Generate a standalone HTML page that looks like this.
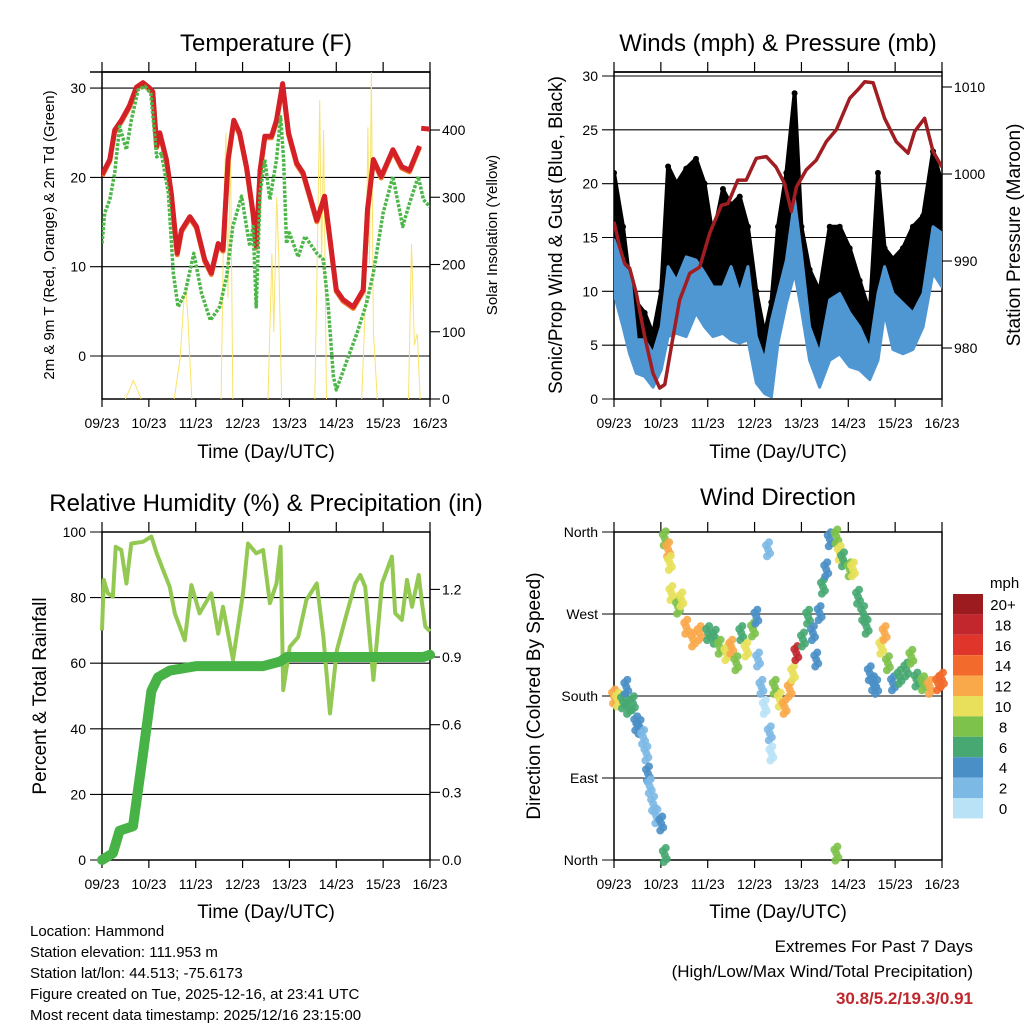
<!DOCTYPE html>
<html><head><meta charset="utf-8"><style>
body{margin:0;background:#fff;}
svg{display:block;font-family:"Liberation Sans",sans-serif;}
</style></head><body>
<svg id="c" width="1024" height="1024" viewBox="0 0 1024 1024" xmlns="http://www.w3.org/2000/svg">
<g fill="#000">
<text x="266" y="51" font-size="24" text-anchor="middle">Temperature (F)</text>
<text x="778" y="51" font-size="24" text-anchor="middle">Winds (mph) &amp; Pressure (mb)</text>
<text x="266" y="511" font-size="24" text-anchor="middle">Relative Humidity (%) &amp; Precipitation (in)</text>
<text x="778" y="505" font-size="24" text-anchor="middle">Wind Direction</text>
<text x="266" y="458" font-size="19" text-anchor="middle">Time (Day/UTC)</text>
<text x="778" y="458" font-size="19" text-anchor="middle">Time (Day/UTC)</text>
<text x="266" y="918" font-size="19" text-anchor="middle">Time (Day/UTC)</text>
<text x="778" y="918" font-size="19" text-anchor="middle">Time (Day/UTC)</text>
<text transform="translate(54,235) rotate(-90)" font-size="15" text-anchor="middle">2m &amp; 9m T (Red, Orange) &amp; 2m Td (Green)</text>
<text transform="translate(497,235) rotate(-90)" font-size="15" text-anchor="middle">Solar Insolation (Yellow)</text>
<text transform="translate(562,235) rotate(-90)" font-size="19" text-anchor="middle">Sonic/Prop Wind &amp; Gust (Blue, Black)</text>
<text transform="translate(1020,235) rotate(-90)" font-size="19" text-anchor="middle">Station Pressure (Maroon)</text>
<text transform="translate(46,696) rotate(-90)" font-size="19" text-anchor="middle">Percent &amp; Total Rainfall</text>
<text transform="translate(540,696) rotate(-90)" font-size="19" text-anchor="middle">Direction (Colored By Speed)</text>
<text x="990" y="588" font-size="15" text-anchor="start">mph</text>
<g font-size="15">
<text x="30" y="936">Location: Hammond</text>
<text x="30" y="957">Station elevation: 111.953 m</text>
<text x="30" y="978">Station lat/lon: 44.513; -75.6173</text>
<text x="30" y="999">Figure created on Tue, 2025-12-16, at 23:41 UTC</text>
<text x="30" y="1020">Most recent data timestamp: 2025/12/16 23:15:00</text>
</g>
<text x="973" y="952" font-size="17" text-anchor="end">Extremes For Past 7 Days</text>
<text x="973" y="977" font-size="17" text-anchor="end">(High/Low/Max Wind/Total Precipitation)</text>
<text x="973" y="1004" font-size="17" font-weight="bold" fill="#c0272d" text-anchor="end">30.8/5.2/19.3/0.91</text>
</g>
</svg>
<script>
// ---- data ----
const days=['09/23','10/23','11/23','12/23','13/23','14/23','15/23','16/23'];
const tempTicks=[0,10,20,30];
const solarTicks=[0,100,200,300,400];
const windTicks=[0,5,10,15,20,25,30];
const presTicks=[980,990,1000,1010];
const rhTicks=[0,20,40,60,80,100];
const rainTicks=[0.0,0.3,0.6,0.9,1.2];
const dirTicks=[0,90,180,270,360];
const dirLabels=['North','East','South','West','North'];
const tHours=[0,4,6.5,10,14,17.6,21,24.4,26,28,29.6,33,35.5,38.5,40.7,45,48.4,52.6,56,59.5,62,64.6,67.5,70.5,74,77.4,79,81,83.4,86.8,89.4,92.5,95.5,99.7,103,106.5,110,114,116.8,120,123.5,128.7,133.8,136,139,143,149,153.5,157.5,162.6];
const tempRed=[20.3,22,25.3,26.4,28,30.1,30.6,30,29.6,23.5,25,22,18.2,11.5,14.1,15.6,14.5,10.8,9.3,12.6,11.9,22,26.4,25,21.2,16,12.3,20.8,24.6,24.6,26.4,30.5,25,21.6,20.5,17.9,15.2,17.9,13.1,7.4,6.3,5.5,7.4,16.4,22,20.1,23.1,21.2,20.8,23.5];
const tLateHours=[163.5,168];
const tempRedLate=[25.5,25.4];
const tdHours=[0,1.4,4,6.5,9,12.5,15,18.5,22,25,28,30.4,34,36.5,39,42.5,47,51,55.5,60.3,63.8,67,71.5,74,75.7,77.4,79,81,83.4,86,89.4,91.5,93,94.5,96,100.5,104,110,113.4,116,118.5,120,125,130.5,135.5,139,144,149,154,157.5,162,164.6,168];
const dewpoint=[12.6,16,17.5,20.5,25.7,23.1,26.4,29.8,30.2,29.4,22.3,22.7,18.2,9.3,5.5,7,11.5,7,4,5.5,8.9,14.5,17.9,14.5,12.3,14.5,5.5,18.2,22,17.5,22,26.8,22,12.6,13.8,11.1,13.4,11.5,10.8,5.2,-2.3,-3.8,-0.8,2.5,5.9,9.3,16,20.1,14.5,17.1,20.1,17.5,16.7];
const solarHours=[0,12,15,16,18,20,37,40,42,43,44,46,61,62.5,63.5,64.5,65.8,67,85,87,88,89.5,90.5,92,109,110.5,111.5,112.5,113.5,115,133,135,136.2,137,138,139,141,157,158.5,160,161.5,163,168];
const solarVals=[0,0,20,28,15,0,0,60,150,162,120,0,0,300,395,150,380,0,0,216,100,300,216,0,0,250,444,200,400,0,0,150,404,200,486,100,0,0,231,80,97,0,0];
const wHours=[0,4.6,8,11.4,15.7,20,24.2,27.7,32,37,42,46.4,50.7,55.8,60,64.4,68.6,72.9,77.2,80.6,84,88.3,92.5,96,100.2,105.3,110.5,115.6,120.7,125.8,131,135.2,138.6,142.9,148,153.1,158.3,163.4,168];
const windHi=[14.8,12.3,11.7,5.5,5.5,4.2,6.7,12.3,11,13.2,12.9,11.7,10.4,10.4,12.3,9.8,12.3,5.8,3.6,7.3,9.8,12.9,18.5,13.5,6.7,4.2,9.2,9.8,8,6.7,4.6,9.8,12.3,9.8,8.9,8,9.8,16,15.4];
const windLo=[9.8,6.7,4.2,2.4,2.1,1.1,2.7,5.8,6.1,5.8,8,6.7,5.8,6.1,5.5,5.2,5.5,1.5,0.5,0.2,5.2,8.9,11.7,8.3,3.6,1.1,3.6,4.2,3,2.7,1.8,3.6,8,4.6,4.2,4.6,6.7,11.7,10.4];
const gust=[21,16,11,9,8,6,10,21.6,20,21.4,22.3,20,15,19.5,18,18.8,16,10,6,9,16,21,28.4,16,12,10,16,16,14,11,8,21,14,13,14,16,17,23,20];
const pHours=[0,2.9,5.5,8,11.4,15.7,20,23.4,26,29.4,33.6,38.8,43.9,49,55,58.4,63.4,67.7,72.9,78,83,87.4,90.8,93.4,98.5,103.6,108.7,113.9,120.7,125,128.4,132.7,138.6,144.6,150.6,154,159.1,163.4,168];
const pressure=[994.5,991.6,989.7,989.2,986.3,981.3,977.1,975.4,975.8,980.2,985.5,988.6,989.3,993.2,996.4,996.6,999.3,999.3,1001.8,1002,1000.8,998.9,995.7,998.5,1000.5,1001.6,1003.7,1005.1,1008.7,1009.7,1010.6,1010.5,1006.4,1003.7,1002.4,1004.9,1006.4,1002.6,1000.8];
const rhHours=[0,0.9,3,5.6,7,9.9,12.5,15,21,25.3,28,31.3,34.7,37.3,42.4,45.8,50,56,59.5,62,67.1,72.2,74.8,79,82.5,86,89.4,91.5,92.8,96.2,100.5,104.7,110,113.4,116.8,120.3,125.4,129.7,132.3,134.8,139,143.4,148.5,150.2,153.6,156.2,158.8,162.2,163.9,165.6,168];
const rh=[70,85.4,81.3,80.3,95.5,94.5,84.3,96.5,97,98.6,93.5,88.4,83.3,75.2,67,83.8,75.2,81.3,69,77.2,61,81.3,96.5,93.5,94.5,78.3,84.3,95.5,51.8,65,68,79.3,84.3,68,44.7,64,75.2,84.3,86.9,83.3,54.9,84.3,92.5,75.2,73.2,85.4,77.2,86.9,78.3,71.2,69.7];
const rainHours=[0,5.6,9,15.9,21,25.3,28.7,34.7,48.4,82.5,91.2,94.6,164.6,168];
const rain=[0,0.03,0.13,0.15,0.47,0.75,0.81,0.84,0.86,0.86,0.88,0.90,0.90,0.91];
const dHours=[0,2,4.6,6.3,7.2,9.7,11.4,13.1,14.9,16.6,17.4,18.3,20,21.7,24.2,26,26,27.7,28.6,29.4,32.8,34.5,37,40.5,43.9,48.2,51.6,54.1,57.5,60.1,62.7,65.2,67.8,71.2,72.9,73.8,75.5,77.2,78.9,79.8,80.6,82.3,84.9,87.4,90,91.7,93.4,96.8,99.4,101.9,103.6,105.3,107,108.7,110.5,113.9,113.9,115.6,117.3,120.7,122.4,125,127.6,129.4,131,132.7,134.3,136.9,138.6,140.3,142.9,146.3,149.7,152.3,154.9,158.3,161.8,166,168];
const dirs=[179.5,176,174,190,168,172,150,146,135,117,95,81,62,48,40,5.5,353,341,326,293,278,286,256,242,249,249,245,234,227,234,216,249,231,253,267,220,190,168,341,139,117,190,176,168,187,205,227,242,267,249,220,271,300,319,352,355,7,337,330,319,319,289,271,256,205,194,190,234,249,216,194,201,209,223,198,194,190,194,198];
const dSpeeds=[13,10,7,4,6,7,4,4,3,3,4,2,2,2,4,6,8,12,10,10,8,10,12,13,12,6,6,8,11,12,8,6,10,8,4,2,3,1,3,2,1,8,10,12,12,10,18,7,6,4,4,4,6,4,5,8,9,10,6,9,10,6,6,6,4,4,4,11,12,8,4,6,7,8,7,9,12,15,14];
const legendLabels=['20+','18','16','14','12','10','8','6','4','2','0'];
const legendColors=['#9b1b1e','#c1272d','#e0352b','#f26a2c','#f9a94a','#e8e05a','#7dc24b','#47a872','#4a8fc6','#7db9e5','#b9e2f7'];

// ---- helpers ----
const NS='http://www.w3.org/2000/svg';
const svg=document.getElementById('c');
function mk(tag,attrs,parent){const e=document.createElementNS(NS,tag);for(const k in attrs)e.setAttribute(k,attrs[k]);(parent||svg).appendChild(e);return e;}
function pathFrom(xs,ys,fx,fy){let d='';for(let i=0;i<xs.length;i++){d+=(i?'L':'M')+fx(xs[i]).toFixed(1)+','+fy(ys[i]).toFixed(1);}return d;}
const P1={x0:102,x1:430,y0:72,y1:399}, P2={x0:614,x1:942,y0:72,y1:399}, P3={x0:102,x1:430,y0:532,y1:860}, P4={x0:614,x1:942,y0:532,y1:860};
const xt=P=>h=>P.x0+h*(P.x1-P.x0)/168;
const yTemp=v=>356-v*8.93, ySolar=v=>399-v*269/400;
const yWind=v=>399-v*(399-76)/30, yPres=v=>348-(v-980)*8.7;
const yRH=v=>860-v*3.28, yRain=v=>860-v*225.5;
const yDir=v=>860-v*328/360;

function frame(P,name){
  const g=mk('g',{});
  
  
  mk('rect',{x:P.x0,y:P.y0,width:P.x1-P.x0,height:P.y1-P.y0,fill:'none',stroke:'#000','stroke-width':1.5},g);
  const fx=xt(P);
  days.forEach((d,i)=>{const x=fx(i*24);
    mk('line',{x1:x,y1:P.y0,x2:x,y2:P.y0-10,stroke:'#000','stroke-width':1.2},g);
    mk('line',{x1:x,y1:P.y1,x2:x,y2:P.y1+8,stroke:'#000','stroke-width':1.2},g);
    const t=mk('text',{x:x,y:P.y1+29,'font-size':14,'text-anchor':'middle'},g);
    t.textContent=d;
    
    
  });
  return g;
}
function leftAxis(P,ticks,fy,labels,g,grid){
  ticks.forEach((v,i)=>{const y=fy(v);
    if(grid) mk('line',{x1:P.x0-12,y1:y,x2:P.x1,y2:y,stroke:'#000','stroke-width':1.1},g);
    else mk('line',{x1:P.x0-10,y1:y,x2:P.x0,y2:y,stroke:'#000','stroke-width':1.1},g);
    const t=mk('text',{x:P.x0-16,y:y+5,'font-size':14,'text-anchor':'end'},g);
    t.textContent=labels?labels[i]:v;
    
    
  });
}
function rightAxis(P,ticks,fy,fmt,g){
  ticks.forEach(v=>{const y=fy(v);
    mk('line',{x1:P.x1,y1:y,x2:P.x1+10,y2:y,stroke:'#000','stroke-width':1.1},g);
    const t=mk('text',{x:P.x1+12,y:y+5,'font-size':14,'text-anchor':'start'},g);
    t.textContent=fmt?fmt(v):v;
    
    
  });
}
function clip(P,id){const cp=mk('clipPath',{id:id});mk('rect',{x:P.x0,y:P.y0,width:P.x1-P.x0,height:P.y1-P.y0},cp);}

// ---- panel 1: temperature ----
clip(P1,'c1');
let g=frame(P1,'temperature');
leftAxis(P1,tempTicks,yTemp,null,g,true);
mk('line',{x1:P1.x0-12,y1:P1.y0,x2:P1.x1,y2:P1.y0,stroke:'#000','stroke-width':1.5},g);
rightAxis(P1,solarTicks,ySolar,null,g);
let x1=xt(P1);
let sd='';
for(let i=1;i<solarHours.length;i++){
  if(solarVals[i]===0&&solarVals[i-1]===0) continue;
  sd+='M'+x1(solarHours[i-1]).toFixed(1)+','+ySolar(solarVals[i-1]).toFixed(1)+'L'+x1(solarHours[i]).toFixed(1)+','+ySolar(solarVals[i]).toFixed(1);
}
let s=mk('path',{d:sd,fill:'none',stroke:'#f9e36a','stroke-width':1,'clip-path':'url(#c1)'});


s=mk('path',{d:pathFrom(tHours,tempRed,x1,v=>yTemp(v)+1.5),fill:'none',stroke:'#f47f30','stroke-width':5,'stroke-linejoin':'round','clip-path':'url(#c1)'});


s=mk('path',{d:pathFrom(tHours,tempRed,x1,yTemp),fill:'none',stroke:'#d42027','stroke-width':5,'stroke-linejoin':'round','clip-path':'url(#c1)'});


s=mk('path',{d:pathFrom(tLateHours,tempRedLate,x1,yTemp),fill:'none',stroke:'#d42027','stroke-width':5,'clip-path':'url(#c1)'});


s=mk('path',{d:pathFrom(tdHours,dewpoint,x1,yTemp),fill:'none',stroke:'#4cb648','stroke-width':3.5,'stroke-dasharray':'3 1.5','stroke-linejoin':'round','clip-path':'url(#c1)'});



// ---- panel 2: winds ----
clip(P2,'c2');
g=frame(P2,'winds');
leftAxis(P2,windTicks,yWind,null,g,true);
mk('line',{x1:P2.x0,y1:P2.y0,x2:P2.x1,y2:P2.y0,stroke:'#000','stroke-width':1.5},g);
rightAxis(P2,presTicks,yPres,null,g);
let x2=xt(P2);
let gd=pathFrom(wHours,gust,x2,yWind);
for(let i=wHours.length-1;i>=0;i--) gd+='L'+x2(wHours[i]).toFixed(1)+','+yWind(windHi[i]).toFixed(1);
s=mk('path',{d:gd+'Z',fill:'#000',stroke:'#000','stroke-width':4,'stroke-linejoin':'round','clip-path':'url(#c2)'});


wHours.forEach((h,i)=>{
  const c=mk('circle',{cx:x2(h),cy:yWind(gust[i]),r:3,fill:'#000','clip-path':'url(#c2)'});
  
  
});
let bd=pathFrom(wHours,windHi,x2,yWind);
for(let i=wHours.length-1;i>=0;i--) bd+='L'+x2(wHours[i]).toFixed(1)+','+yWind(windLo[i]).toFixed(1);
s=mk('path',{d:bd+'Z',fill:'#4f97d3',stroke:'#4f97d3','stroke-width':3,'stroke-linejoin':'round','clip-path':'url(#c2)'});


s=mk('path',{d:pathFrom(pHours,pressure,x2,yPres),fill:'none',stroke:'#a01d22','stroke-width':3.5,'stroke-linejoin':'round','clip-path':'url(#c2)'});



// ---- panel 3: humidity ----
clip(P3,'c3');
g=frame(P3,'humidity');
leftAxis(P3,rhTicks,yRH,null,g,true);
rightAxis(P3,rainTicks,yRain,v=>v.toFixed(1),g);
let x3=xt(P3);
s=mk('path',{d:pathFrom(rhHours,rh,x3,yRH),fill:'none',stroke:'#93c952','stroke-width':4,'stroke-linejoin':'round'});


s=mk('path',{d:pathFrom(rainHours,rain,x3,yRain),fill:'none',stroke:'#47b347','stroke-width':10,'stroke-linejoin':'round','stroke-linecap':'round'});



// ---- panel 4: direction ----
g=frame(P4,'direction');
leftAxis(P4,dirTicks,yDir,dirLabels,g,true);
let x4=xt(P4);
function spdColor(v){let idx=Math.min(10,Math.floor(v/2));return legendColors[10-idx];}
const jitter=[[0,0],[2,4],[-2,-4],[1,-7],[-1,7]];
dHours.forEach((h,i)=>{
  jitter.forEach(j=>{
    const c=mk('circle',{cx:x4(h)+j[0],cy:yDir(dirs[i])+j[1],r:4,fill:spdColor(dSpeeds[i]),'fill-opacity':0.9});
    
    
  });
});
// legend
const lg=mk('g',{});


legendColors.forEach((col,i)=>{
  const y=594+i*20.4;
  const r=mk('rect',{x:953,y:y,width:30,height:20.4,fill:col},lg);
  
  
  const t=mk('text',{x:1003,y:y+16,'font-size':15,'text-anchor':'middle'},lg);
  t.textContent=legendLabels[i];
  
  
});
</script>
</body></html>
